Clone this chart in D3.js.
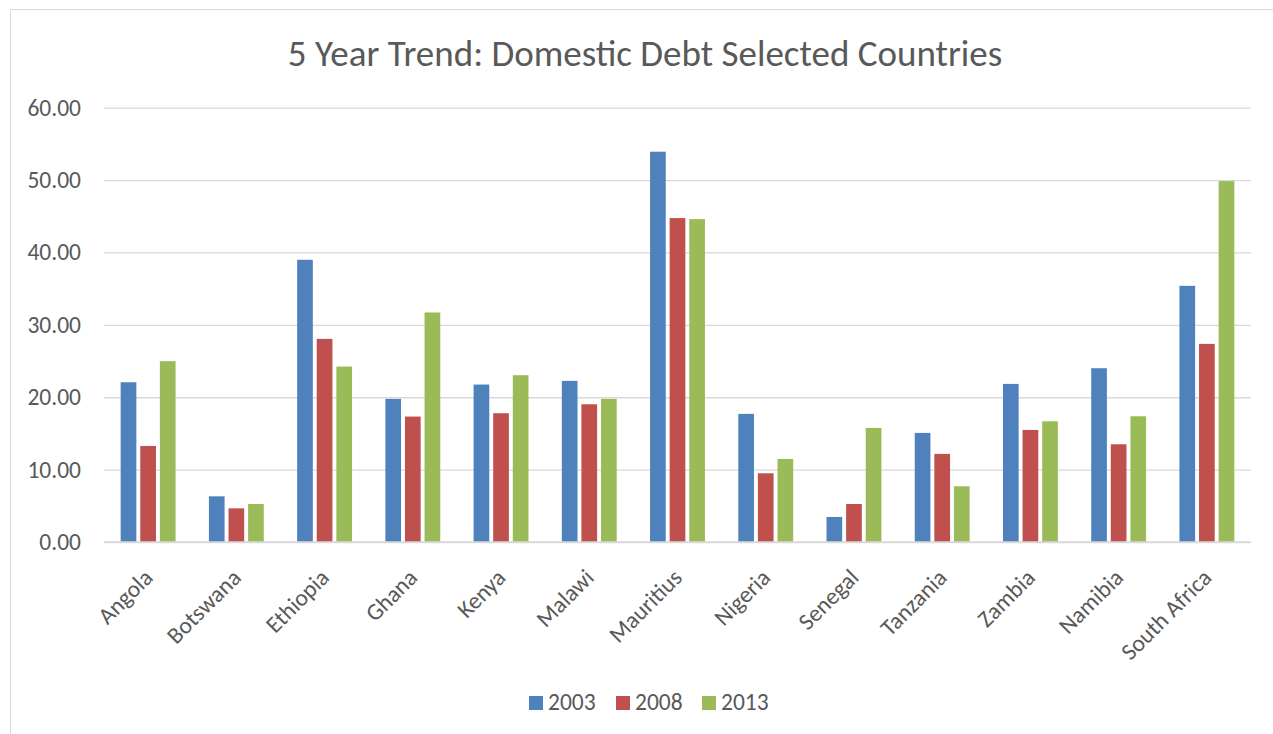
<!DOCTYPE html>
<html>
<head>
<meta charset="utf-8">
<script src="https://cdn.jsdelivr.net/npm/d3@7"></script>
<style>
  html, body { margin: 0; padding: 0; background: #fff; }
  svg { display: block; }
  text { font-family: Carlito, Calibri, Lato, sans-serif; fill: #595959; }
</style>
</head>
<body>
<svg id="chart" width="1273" height="734"></svg>
<script>
// Domestic debt by country, three snapshot years
const countries = ["Angola", "Botswana", "Ethiopia", "Ghana", "Kenya", "Malawi", "Mauritius",
  "Nigeria", "Senegal", "Tanzania", "Zambia", "Namibia", "South Africa"];
const years = ["2003", "2008", "2013"];
const debt2003 = [22.07, 6.31, 38.99, 19.77, 21.75, 22.26, 53.92, 17.70, 3.46, 15.07, 21.84, 24.01, 35.39];
const debt2008 = [13.27, 4.65, 28.06, 17.33, 17.79, 19.03, 44.75, 9.49, 5.25, 12.17, 15.48, 13.50, 27.37];
const debt2013 = [24.98, 5.25, 24.24, 31.71, 23.04, 19.77, 44.61, 11.47, 15.76, 7.70, 16.68, 17.37, 49.86];
const yTicks = [0, 10, 20, 30, 40, 50, 60];
const colors = ["#4f81bd", "#c0504d", "#9bbb59"];

const seriesValues = [debt2003, debt2008, debt2013];
const rows = countries.map((c, i) => ({
  country: c,
  values: years.map((y, j) => ({ year: y, value: seriesValues[j][i] }))
}));

const svg = d3.select("#chart");
const plotLeft = 104, plotRight = 1251, plotTop = 107.7, plotBottom = 542;
const labelSize = "23.5px";

// chart frame
svg.append("rect")
  .attr("x", 10.5).attr("y", 9.5)
  .attr("width", 1300).attr("height", 800)
  .attr("fill", "none").attr("stroke", "#d9d9d9").attr("stroke-width", 1);

// title
svg.append("text")
  .attr("x", 645).attr("y", 66)
  .attr("text-anchor", "middle")
  .style("font-size", "37px")
  .text("5 Year Trend: Domestic Debt Selected Countries");

const x0 = d3.scaleBand().domain(countries).range([plotLeft, plotRight])
  .paddingInner(1 / 3).paddingOuter(1 / 6);
const x1 = d3.scaleBand().domain(years).range([0, x0.bandwidth()])
  .paddingInner(0.2).paddingOuter(0.1);
const y = d3.scaleLinear().domain([0, 60]).range([plotBottom, plotTop]);

// horizontal gridlines and value labels
const yAxis = d3.axisLeft(y).tickValues(yTicks)
  .tickSize(-(plotRight - plotLeft)).tickPadding(23)
  .tickFormat(d3.format(".2f"));
const gy = svg.append("g").attr("transform", `translate(${plotLeft},0)`).call(yAxis);
gy.select(".domain").remove();
gy.selectAll(".tick line").attr("stroke", "#d9d9d9").attr("stroke-width", 1.3);
gy.selectAll(".tick text")
  .attr("fill", "#595959")
  .style("font-size", labelSize);

// bars
const groups = svg.append("g").selectAll("g").data(rows).join("g")
  .attr("transform", d => `translate(${x0(d.country)},0)`);
groups.selectAll("rect").data(d => d.values).join("rect")
  .attr("x", d => x1(d.year))
  .attr("width", x1.bandwidth())
  .attr("y", d => y(d.value))
  .attr("height", d => y(0) - y(d.value))
  .attr("fill", (d, i) => colors[i]);

// baseline
svg.append("line")
  .attr("x1", plotLeft).attr("x2", plotRight)
  .attr("y1", y(0)).attr("y2", y(0))
  .attr("stroke", "#d9d9d9").attr("stroke-width", 1.3);

// rotated category labels
const xAxis = d3.axisBottom(x0).tickSize(0).tickPadding(0);
const gx = svg.append("g").attr("transform", `translate(0,${plotBottom})`).call(xAxis);
gx.select(".domain").remove();
gx.selectAll(".tick text")
  .attr("fill", "#595959")
  .style("font-size", labelSize)
  .attr("text-anchor", "end")
  .attr("dy", null)
  .attr("transform", "translate(6,37) rotate(-45)");

// legend
const legendX = [529, 616, 702];
const legend = svg.append("g").selectAll("g").data(years).join("g")
  .attr("transform", (d, i) => `translate(${legendX[i]},696)`);
legend.append("rect").attr("width", 14).attr("height", 14)
  .attr("fill", (d, i) => colors[i]);
legend.append("text").attr("x", 19).attr("y", 13.5)
  .style("font-size", labelSize)
  .text(d => d);
</script>
</body>
</html>
